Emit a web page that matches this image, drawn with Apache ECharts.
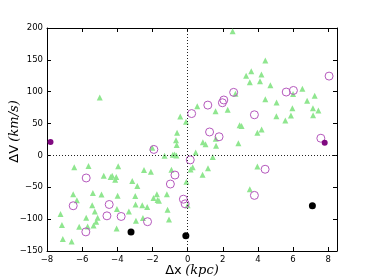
<!DOCTYPE html>
<html><head><meta charset="utf-8">
<script src="https://cdn.jsdelivr.net/npm/echarts@6/dist/echarts.min.js"></script>
<style>html,body{margin:0;padding:0;background:#fff}#c{width:374px;height:280px}</style>
</head><body><div id="c"></div>
<script>
const xTicks = [-8, -6, -4, -2, 0, 2, 4, 6, 8];
const yTicks = [-150, -100, -50, 0, 50, 100, 150, 200];

const greenTriangles = [
  [2.56,195],[-5.0,91],[3.33,125],[3.62,132],[3.54,115],[4.42,149],[4.2,127],[4.12,116.5],[4.71,110],
  [4.42,88],[5.06,83],[6.53,104.5],[6.0,96.5],[6.8,86],[7.23,93.5],[5.96,74],[7.13,74],[7.44,70.5],
  [7.14,63],[5.05,61.5],[5.88,62.5],[5.56,55],[2.72,97],[2.28,71.5],[1.59,69.5],[0.55,77],[-0.42,61],
  [-0.09,52.7],[-0.6,35.5],[-0.66,24],[-0.62,16.5],[2.96,47.5],[3.07,46.2],[4.21,40.5],[3.97,35.5],
  [1.6,26],[1.62,15],[0.87,20.5],[1.02,17.5],[2.89,19],[-2.01,12],[-1.31,-0.5],[-0.84,1],[-0.74,1.5],
  [-0.64,0],[0.46,4.5],[1.43,-2.5],[0.29,-18.5],[0.17,-22],[1.16,-20.2],[0.85,-30.5],[-0.07,-41.5],
  [3.97,-17.3],[3.54,-53],[0.0,-78],
  [-6.45,-18.5],[-5.64,-16.5],[-3.95,-17],[-4.77,-32],[-4.38,-34],[-4.29,-32],[-4.12,-38],[-4.06,-34],
  [-2.48,-22.8],[-2.09,-25.8],[-3.15,-40],[-2.86,-48],[-0.92,-22.5],[-6.51,-61],[-6.3,-70.5],[-5.39,-59],
  [-4.9,-61.5],[-3.98,-63.3],[-2.98,-63.5],[-1.75,-61],[-1.94,-66.7],[-1.71,-70],[-1.63,-71],[-1.18,-61],
  [-7.23,-92],[-7.15,-109],[-5.77,-98],[-5.43,-78],[-5.28,-88],[-5.12,-98],[-5.2,-104],[-5.69,-111.5],
  [-5.35,-110],[-6.17,-112],[-7.1,-131],[-6.6,-135],[-4.02,-84],[-4.04,-114.6],[-2.96,-77],[-2.58,-78],
  [-2.3,-81],[-3.34,-88],[-2.94,-102.6],[-2.54,-98.4],[-1.14,-85.4],[-1.06,-100.5]
];

const openCircles = [
  [0.23,65.7],[1.15,79],[1.25,36.8],[1.79,29.3],[1.98,82.7],[2.06,87],[2.62,99],[3.8,63.8],[5.61,99.5],
  [6.02,102],[8.05,124.5],[8.52,82.8],[7.58,27],[-1.92,9.4],[0.15,-7],[4.41,-21.7],[3.8,-62.7],
  [-0.24,-68.7],[-0.14,-76],[-0.72,-30.8],[-0.98,-44.9],[-5.77,-35.4],[-6.51,-79],[-4.46,-77],
  [-4.59,-94.8],[-3.78,-95.8],[-2.28,-104],[-5.79,-120]
];

const purpleDots = [[-7.8,21],[7.8,20]];
const blackDots = [[-3.22,-120],[-0.1,-126],[7.1,-79]];

const fmt = v => (v < 0 ? '\u2212' + Math.abs(v) : String(v));
const tickFont = {fontFamily: 'DejaVu Sans', fontSize: 8.5, color: '#000'};
const lineStyle = {color: '#000', width: 1};

const chart = echarts.init(document.getElementById('c'), null, {renderer: 'canvas'});
const xBase = {
  type: 'value', min: -8, max: 8.5, interval: 2,
  axisLine: {show: true, onZero: false, lineStyle},
  axisTick: {show: true, inside: true, length: 4, lineStyle},
  splitLine: {show: false}
};
const yBase = {
  type: 'value', min: -150, max: 200, interval: 50,
  axisLine: {show: true, onZero: false, lineStyle},
  axisTick: {show: true, inside: true, length: 4, lineStyle},
  splitLine: {show: false}
};
chart.setOption({
  animation: false,
  grid: {left: 47, right: 37, top: 28, bottom: 29, containLabel: false, outerBoundsMode: 'none'},
  xAxis: [
    Object.assign({}, xBase, {
      position: 'bottom',
      axisLabel: Object.assign({}, tickFont, {formatter: fmt, showMaxLabel: false, margin: 4}),
      name: '{a|\u0394x} {b|(kpc)}', nameLocation: 'middle', nameGap: 13, nameMoveOverlap: false,
      nameTextStyle: {rich: {
        a: {fontFamily: 'DejaVu Sans', fontSize: 13, color: '#000'},
        b: {fontFamily: 'DejaVu Serif', fontStyle: 'italic', fontSize: 13, color: '#000'}
      }}
    }),
    Object.assign({}, xBase, {position: 'top', axisLabel: {show: false}})
  ],
  yAxis: [
    Object.assign({}, yBase, {
      position: 'left',
      axisLabel: Object.assign({}, tickFont, {formatter: fmt, margin: 4}),
      name: '{a|\u0394V} {b|(km/s)}', nameLocation: 'middle', nameGap: 26, nameMoveOverlap: false,
      nameTextStyle: {padding: [0, 0, 0, 16], rich: {
        a: {fontFamily: 'DejaVu Sans', fontSize: 13, color: '#000'},
        b: {fontFamily: 'DejaVu Serif', fontStyle: 'italic', fontSize: 13, color: '#000'}
      }}
    }),
    Object.assign({}, yBase, {position: 'right', axisLabel: {show: false}})
  ],
  series: [
    {
      type: 'scatter', data: greenTriangles, symbol: 'triangle', symbolSize: 6,
      itemStyle: {color: '#8fe68f', opacity: 1},
      markLine: {
        silent: true, symbol: 'none', label: {show: false},
        lineStyle: {color: '#222', type: [1, 2], width: 1},
        data: [{xAxis: 0}, {yAxis: 0}]
      }
    },
    {
      type: 'scatter', data: openCircles, symbol: 'circle', symbolSize: 8,
      itemStyle: {color: 'rgba(0,0,0,0)', borderColor: '#b457bc', borderWidth: 1, opacity: 1}
    },
    {
      type: 'scatter', data: purpleDots, symbol: 'circle', symbolSize: 6,
      itemStyle: {color: '#800a80', opacity: 1}
    },
    {
      type: 'scatter', data: blackDots, symbol: 'circle', symbolSize: 7,
      itemStyle: {color: '#000', opacity: 1}
    }
  ]
});
</script></body></html>
